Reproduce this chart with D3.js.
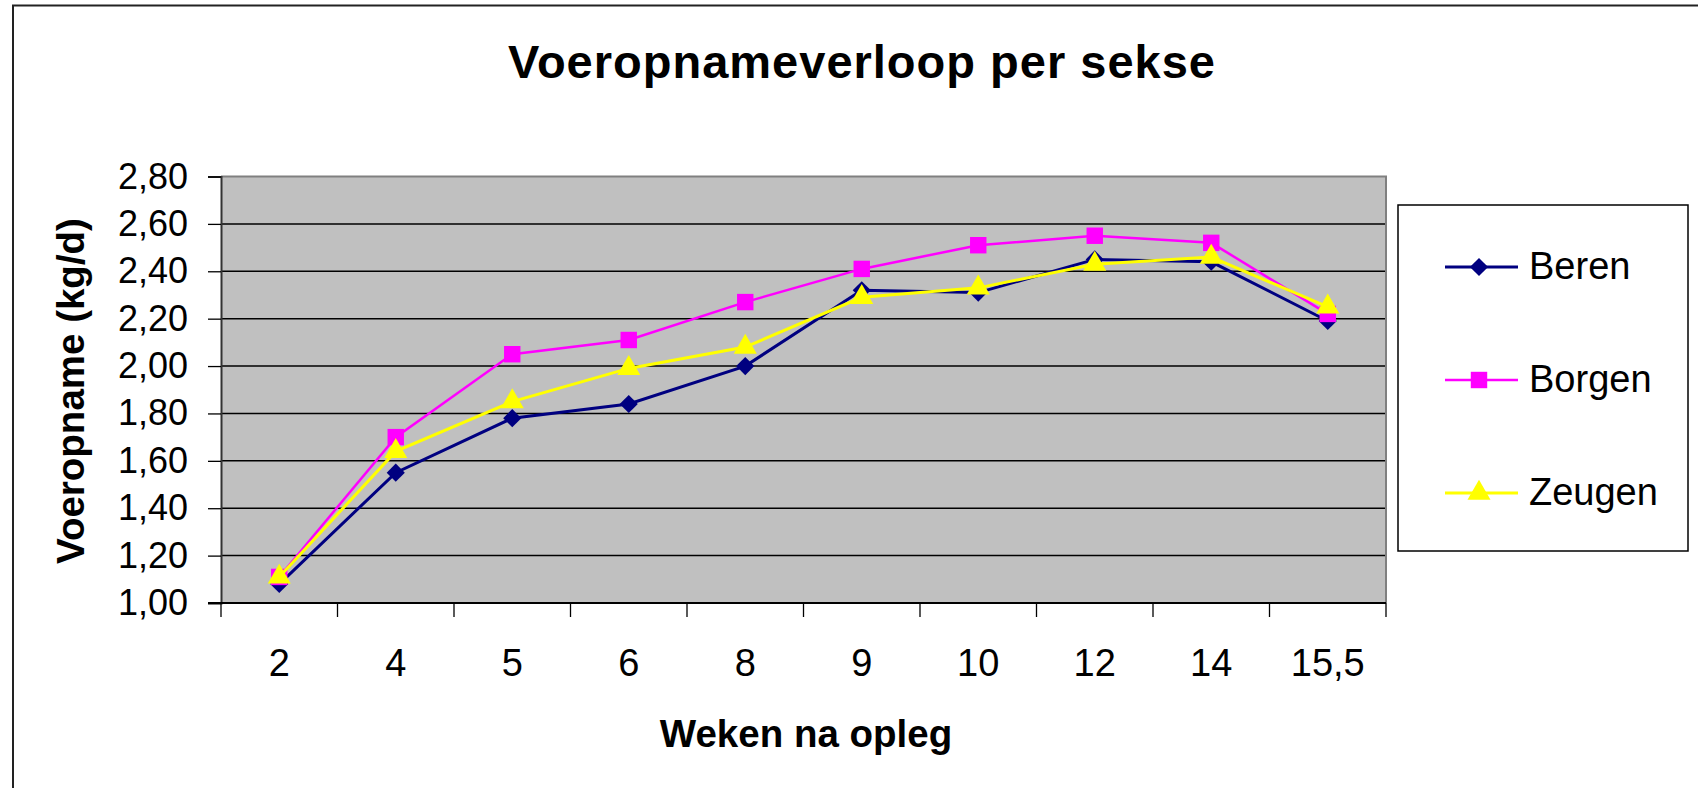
<!DOCTYPE html>
<html>
<head>
<meta charset="utf-8">
<script src="https://cdn.jsdelivr.net/npm/d3@7"></script>
<style>
  body { margin: 0; background: #fff; }
  text { font-family: "Liberation Sans", Arial, sans-serif; }
</style>
</head>
<body>
<div id="chart"></div>
<script>
// Voeropname per sekse
var weken = ["2", "4", "5", "6", "8", "9", "10", "12", "14", "15,5"];
var beren  = [1.08, 1.55, 1.78, 1.84, 2.00, 2.32, 2.31, 2.45, 2.44, 2.19];
var borgen = [1.11, 1.70, 2.05, 2.11, 2.27, 2.41, 2.51, 2.55, 2.52, 2.22];
var zeugen = [1.11, 1.64, 1.85, 1.99, 2.08, 2.29, 2.33, 2.43, 2.46, 2.25];
var yTicks = [1.0, 1.2, 1.4, 1.6, 1.8, 2.0, 2.2, 2.4, 2.6, 2.8];
var reeksNamen = ["Beren", "Borgen", "Zeugen"];

var W = 1698, H = 788;
var plot = { left: 221, right: 1386, top: 176.5, bottom: 603 };

var nl = d3.formatLocale({ decimal: ",", thousands: ".", grouping: [3], currency: ["€", ""] });
var fmt = nl.format(".2f");

var series = [
  { name: reeksNamen[0], values: beren,  color: "#000080", width: 3,   symbol: d3.symbolDiamond2, size: 210 },
  { name: reeksNamen[1], values: borgen, color: "#FF00FF", width: 2.5, symbol: d3.symbolSquare,   size: 270 },
  { name: reeksNamen[2], values: zeugen, color: "#FFFF00", width: 3,   symbol: d3.symbolTriangle, size: 230 }
];

var svg = d3.select("#chart").append("svg")
    .attr("width", W)
    .attr("height", H);

// rand om de grafiek
svg.append("path")
    .attr("d", "M13,800 L13,5.5 L1710,5.5")
    .attr("fill", "none")
    .attr("stroke", "#222")
    .attr("stroke-width", 2);

var x = d3.scaleBand()
    .domain(weken)
    .range([plot.left, plot.right])
    .padding(0);

var y = d3.scaleLinear()
    .domain([1.0, 2.8])
    .range([plot.bottom, plot.top]);

// plotvlak
svg.append("rect")
    .attr("x", plot.left)
    .attr("y", plot.top)
    .attr("width", plot.right - plot.left)
    .attr("height", plot.bottom - plot.top)
    .attr("fill", "#C0C0C0");

// rasterlijnen
svg.append("g").selectAll("line")
    .data(yTicks.slice(1, -1))
    .enter().append("line")
    .attr("x1", plot.left)
    .attr("x2", plot.right)
    .attr("y1", function(d) { return y(d); })
    .attr("y2", function(d) { return y(d); })
    .attr("stroke", "#000")
    .attr("stroke-width", 1.5);

// grijze rand boven en rechts
svg.append("path")
    .attr("d", "M" + plot.left + "," + plot.top + " L" + plot.right + "," + plot.top + " L" + plot.right + "," + plot.bottom)
    .attr("fill", "none")
    .attr("stroke", "#808080")
    .attr("stroke-width", 2);

// y-as
var yAxis = d3.axisLeft(y)
    .tickValues(yTicks)
    .tickSize(13)
    .tickPadding(20)
    .tickFormat(fmt);

var gy = svg.append("g")
    .attr("transform", "translate(" + plot.left + ",0)")
    .call(yAxis);
gy.select(".domain").attr("stroke", "#333").attr("stroke-width", 2);
gy.selectAll(".tick line").attr("stroke", "#000").attr("stroke-width", 1.3);
gy.selectAll(".tick text")
    .attr("fill", "#000")
    .style("font-size", "36px");

// x-as (labels)
var xAxis = d3.axisBottom(x)
    .tickSize(0)
    .tickPadding(46);

var gx = svg.append("g")
    .attr("transform", "translate(0," + plot.bottom + ")")
    .call(xAxis);
gx.select(".domain").remove();
gx.selectAll(".tick text")
    .attr("fill", "#000")
    .style("font-size", "38px");

// x-as lijn en streepjes op de klassegrenzen
var grenzen = weken.map(function(d) { return x(d); }).concat([x.range()[1]]);
svg.append("line")
    .attr("x1", plot.left - 13)
    .attr("x2", plot.right)
    .attr("y1", plot.bottom)
    .attr("y2", plot.bottom)
    .attr("stroke", "#000")
    .attr("stroke-width", 2);
svg.append("g").selectAll("line")
    .data(grenzen)
    .enter().append("line")
    .attr("x1", function(d) { return d; })
    .attr("x2", function(d) { return d; })
    .attr("y1", plot.bottom)
    .attr("y2", plot.bottom + 14)
    .attr("stroke", "#000")
    .attr("stroke-width", 1.3);

// lijnen
var line = d3.line()
    .x(function(d, i) { return x(weken[i]) + x.bandwidth() / 2; })
    .y(function(d) { return y(d); });

series.forEach(function(s) {
  svg.append("path")
      .datum(s.values)
      .attr("fill", "none")
      .attr("stroke", s.color)
      .attr("stroke-width", s.width)
      .attr("d", line);

  svg.append("g").selectAll("path")
      .data(s.values)
      .enter().append("path")
      .attr("d", d3.symbol().type(s.symbol).size(s.size))
      .attr("transform", function(d, i) {
        return "translate(" + (x(weken[i]) + x.bandwidth() / 2) + "," + y(d) + ")";
      })
      .attr("fill", s.color);
});

// titels
svg.append("text")
    .attr("x", 862)
    .attr("y", 78)
    .attr("text-anchor", "middle")
    .style("font-size", "47px")
    .style("font-weight", "bold")
    .style("letter-spacing", "1px")
    .text("Voeropnameverloop per sekse");

svg.append("text")
    .attr("x", 806)
    .attr("y", 747)
    .attr("text-anchor", "middle")
    .style("font-size", "38.5px")
    .style("font-weight", "bold")
    .text("Weken na opleg");

svg.append("text")
    .attr("transform", "translate(84,391) rotate(-90)")
    .attr("text-anchor", "middle")
    .style("font-size", "38.5px")
    .style("font-weight", "bold")
    .text("Voeropname (kg/d)");

// legenda
var legend = svg.append("g");
legend.append("rect")
    .attr("x", 1398)
    .attr("y", 205)
    .attr("width", 290)
    .attr("height", 346)
    .attr("fill", "#fff")
    .attr("stroke", "#000")
    .attr("stroke-width", 1.5);

var item = legend.selectAll("g.item")
    .data(series)
    .enter().append("g")
    .attr("class", "item")
    .attr("transform", function(d, i) { return "translate(1445," + (267 + i * 113) + ")"; });

item.append("line")
    .attr("x1", 0)
    .attr("x2", 73)
    .attr("stroke", function(d) { return d.color; })
    .attr("stroke-width", function(d) { return d.width; });

item.append("path")
    .attr("transform", "translate(34,0)")
    .attr("d", function(d) { return d3.symbol().type(d.symbol).size(d.size)(); })
    .attr("fill", function(d) { return d.color; });

item.append("text")
    .attr("x", 84)
    .attr("y", 12)
    .style("font-size", "38px")
    .text(function(d) { return d.name; });
</script>
</body>
</html>
